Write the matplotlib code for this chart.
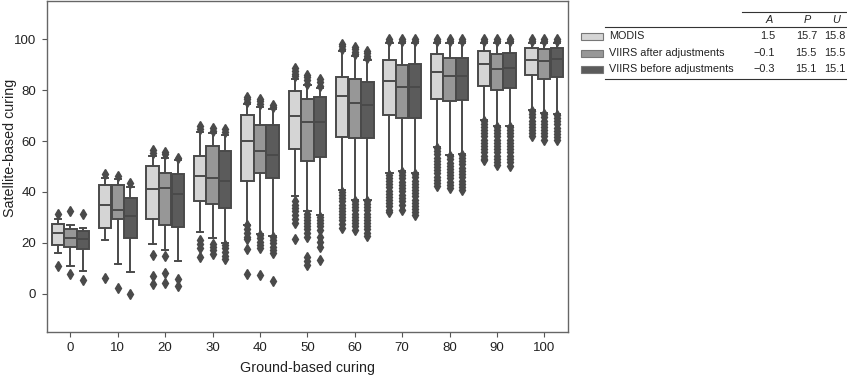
import numpy as np
import matplotlib
matplotlib.use("Agg")
import matplotlib.pyplot as plt
from matplotlib.patches import Rectangle
from matplotlib.lines import Line2D

plt.rcParams['font.family'] = ['Liberation Sans', 'DejaVu Sans']

# ground-based curing classes
categories = [0, 10, 20, 30, 40, 50, 60, 70, 80, 90, 100]
series = ["MODIS", "VIIRS after adjustments", "VIIRS before adjustments"]
colors = ["#d5d5d5", "#979797", "#5b5b5b"]

# box statistics
modis_q1 = [19.0, 26.0, 29.4, 36.4, 44.2, 56.7, 61.6, 70.4, 76.5, 81.7, 85.8]
modis_med = [24.0, 35.0, 41.0, 46.3, 59.9, 70.0, 77.7, 83.6, 87.3, 90.4, 92.0]
modis_q3 = [27.5, 42.9, 50.1, 54.3, 70.4, 79.6, 85.2, 91.7, 94.0, 95.4, 96.6]
modis_lo = [16.1, 21.2, 19.4, 24.4, 27.1, 38.3, 40.6, 47.4, 57.7, 68.4, 72.1]
modis_hi = [29.2, 45.5, 54.0, 63.5, 74.5, 84.5, 95.5, 98.5, 98.5, 98.5, 98.5]
modis_fliers = [
    [31.5, 10.9],
    [47.0, 6.4],
    [55.3, 56.6, 15.1, 6.9, 3.9],
    [64.8, 65.8, 21.0, 19.5, 18.0, 14.4],
    [75.5, 76.5, 77.3, 27.0, 25.5, 24.0, 22.5, 21.5, 17.7, 7.6],
    [85.5, 86.5, 87.5, 88.5, 36.5, 35.0, 33.8, 32.5, 31.0, 29.5, 28.0, 21.5],
    [96.3, 97.2, 98.2, 40.0, 38.8, 37.5, 36.3, 35.0, 33.8, 32.5, 31.3, 30.0,
     28.8, 27.5, 26.0],
    [99.2, 100.0, 46.8, 45.5, 44.3, 43.0, 41.8, 40.5, 39.3, 38.0, 36.8, 35.5,
     34.3, 33.0, 32.0],
    [99.2, 100.0, 57.2, 56.0, 54.8, 53.5, 52.3, 51.0, 49.8, 48.5, 47.3, 46.0,
     44.8, 43.5, 42.3],
    [99.2, 100.0, 68.0, 66.8, 65.5, 64.3, 63.0, 61.8, 60.5, 59.3, 58.0, 56.8,
     55.5, 54.3, 53.0, 52.4],
    [99.2, 100.0, 71.8, 70.5, 69.3, 68.0, 66.8, 65.5, 64.3, 63.0, 61.8],
]

after_q1 = [18.2, 29.4, 26.9, 35.1, 47.6, 52.2, 61.3, 69.2, 75.8, 80.2, 84.5]
after_med = [21.8, 32.8, 41.5, 45.5, 56.1, 67.4, 75.1, 81.3, 85.5, 88.1, 91.5]
after_q3 = [25.4, 42.9, 47.4, 57.9, 66.2, 76.5, 84.3, 90.0, 92.8, 94.0, 96.3]
after_lo = [11.0, 11.8, 17.3, 22.1, 23.6, 32.5, 37.0, 48.2, 54.4, 65.8, 71.0]
after_hi = [27.0, 45.0, 53.5, 63.0, 73.5, 82.0, 93.5, 98.5, 98.5, 98.5, 98.5]
after_fliers = [
    [32.5, 7.6],
    [46.3, 2.4],
    [54.8, 55.7, 14.8, 8.3, 4.2],
    [64.0, 65.3, 19.7, 18.5, 17.2, 15.5],
    [74.7, 75.6, 76.4, 23.0, 21.8, 20.5, 19.3, 18.0, 7.3],
    [82.5, 83.8, 85.0, 86.0, 31.5, 30.3, 29.0, 27.8, 26.5, 25.3, 24.0, 22.5,
     14.4, 13.0, 11.5],
    [94.0, 95.0, 96.0, 96.8, 36.5, 35.3, 34.0, 32.8, 31.5, 30.3, 29.0, 27.8,
     26.5, 25.0],
    [99.2, 100.0, 47.8, 46.5, 45.3, 44.0, 42.8, 41.5, 40.3, 39.0, 37.8, 36.5,
     35.0, 32.8],
    [99.2, 100.0, 54.0, 52.8, 51.5, 50.3, 49.0, 47.8, 46.5, 45.3, 44.0, 42.8,
     41.5],
    [99.2, 100.0, 65.5, 64.3, 63.0, 61.8, 60.5, 59.3, 58.0, 56.8, 55.5, 54.3,
     53.0, 51.8, 50.5],
    [99.2, 100.0, 70.5, 69.3, 68.0, 66.8, 65.5, 64.3, 63.0, 61.8, 60.5],
]

before_q1 = [17.6, 21.9, 26.2, 33.6, 45.5, 53.6, 61.2, 69.2, 76.3, 81.0, 85.2]
before_med = [21.5, 30.4, 39.3, 44.4, 54.7, 67.4, 74.3, 81.3, 85.5, 88.7, 92.3]
before_q3 = [24.5, 37.5, 47.2, 56.2, 66.4, 77.1, 83.2, 90.2, 92.8, 94.4, 96.7]
before_lo = [9.0, 8.7, 13.0, 19.9, 22.9, 30.8, 37.0, 47.4, 54.8, 65.8, 70.8]
before_hi = [25.8, 42.0, 52.5, 62.5, 72.5, 81.0, 92.0, 98.5, 98.5, 98.5, 98.5]
before_fliers = [
    [31.5, 5.5],
    [43.6, 0.0],
    [53.3, 5.8, 3.0],
    [63.5, 64.8, 19.0, 17.8, 16.3, 14.8, 13.8],
    [73.3, 74.3, 22.3, 21.0, 19.8, 18.5, 17.2, 16.0, 5.2],
    [81.8, 83.0, 84.3, 30.3, 29.0, 27.8, 26.5, 25.0, 22.5, 20.5, 18.3, 13.4],
    [92.5, 93.5, 94.5, 95.4, 36.5, 35.3, 34.0, 32.8, 31.5, 30.3, 29.0, 27.8,
     26.5, 25.3, 24.0, 22.9],
    [99.2, 100.0, 47.0, 45.8, 44.5, 43.3, 42.0, 40.8, 39.5, 38.3, 37.0, 35.8,
     34.5, 33.3, 32.0, 30.8],
    [99.2, 100.0, 54.5, 53.3, 52.0, 50.8, 49.5, 48.3, 47.0, 45.8, 44.5, 43.3,
     42.0, 40.8],
    [99.2, 100.0, 65.5, 64.3, 63.0, 61.8, 60.5, 59.3, 58.0, 56.8, 55.5, 54.3,
     53.0, 51.8, 50.3],
    [99.2, 100.0, 70.3, 69.0, 67.8, 66.5, 65.3, 64.0, 62.8, 61.5, 60.3],
]

# error table (A, P, U)
tab_A = ["1.5", "\u22120.1", "\u22120.3"]
tab_P = ["15.7", "15.5", "15.1"]
tab_U = ["15.8", "15.5", "15.1"]

all_stats = [
    (modis_q1, modis_med, modis_q3, modis_lo, modis_hi, modis_fliers),
    (after_q1, after_med, after_q3, after_lo, after_hi, after_fliers),
    (before_q1, before_med, before_q3, before_lo, before_hi, before_fliers),
]

W, H = 847, 376
fig = plt.figure(figsize=(W / 100, H / 100), dpi=100)
ax = fig.add_axes([46.7 / W, 1 - 332 / H, (568 - 46.7) / W, 331 / H])

edge = "#4a4a4a"
bw = 0.8 / 3
for k, (q1, med, q3, lo, hi, fl) in enumerate(all_stats):
    stats = []
    for i in range(len(categories)):
        stats.append(dict(q1=q1[i], med=med[i], q3=q3[i],
                          whislo=lo[i], whishi=hi[i], fliers=fl[i]))
    pos = np.arange(len(categories)) + (k - 1) * bw
    bp = ax.bxp(stats, positions=pos, widths=bw * 0.98, capwidths=bw * 0.5,
                patch_artist=True, manage_ticks=False,
                boxprops=dict(edgecolor=edge, linewidth=1.4),
                medianprops=dict(color=edge, linewidth=1.4),
                whiskerprops=dict(color=edge, linewidth=1.4),
                capprops=dict(color=edge, linewidth=1.4),
                flierprops=dict(marker="d", markersize=5.5,
                                markerfacecolor=edge, markeredgecolor=edge))
    for b in bp["boxes"]:
        b.set_facecolor(colors[k])

ax.set_xlim(-0.5, len(categories) - 0.5)
ax.set_ylim(-15, 115)
ax.set_xticks(np.arange(len(categories)))
ax.set_xticklabels([str(c) for c in categories])
ax.set_yticks([0, 20, 40, 60, 80, 100])
ax.tick_params(labelsize=9.5, length=3.5, width=0.8, color="#555555",
               labelcolor="#222222", pad=4)
for s in ax.spines.values():
    s.set_color("#666666")
    s.set_linewidth(1.0)
ax.set_xlabel("Ground-based curing", fontsize=10.3, color="#222222", labelpad=5)
ax.set_ylabel("Satellite-based curing", fontsize=10.3, color="#222222",
              va="center")
ax.yaxis.set_label_coords((10 - 46.7) / 521.3, (332 - 147.5) / 331)

# legend with table
def fy(y):
    return 1 - y / H

rows_y = [36, 53, 69.5]
for k in range(3):
    fig.patches.append(Rectangle((581 / W, fy(rows_y[k] + 3.5)), 22 / W, 7 / H,
                                 transform=fig.transFigure, facecolor=colors[k],
                                 edgecolor="#777777", linewidth=0.8))
    fig.text(609 / W, fy(rows_y[k]), series[k], fontsize=7.8, va="center",
             color="#222222")
    fig.text(775 / W, fy(rows_y[k]), tab_A[k], fontsize=7.8, va="center",
             ha="right", color="#222222")
    fig.text(817 / W, fy(rows_y[k]), tab_P[k], fontsize=7.8, va="center",
             ha="right", color="#222222")
    fig.text(846 / W, fy(rows_y[k]), tab_U[k], fontsize=7.8, va="center",
             ha="right", color="#222222")

for lab, xr in zip(["A", "P", "U"], [773, 811, 840]):
    fig.text(xr / W, fy(20), lab, fontsize=7.8, style="italic", va="center",
             ha="right", color="#222222")

for x0, y0 in [(742, 12), (605, 27), (605, 79)]:
    fig.lines.append(Line2D([x0 / W, 1.0], [fy(y0), fy(y0)],
                            transform=fig.transFigure, color="#333333",
                            linewidth=0.8))

fig.savefig("out.png", dpi=100)
